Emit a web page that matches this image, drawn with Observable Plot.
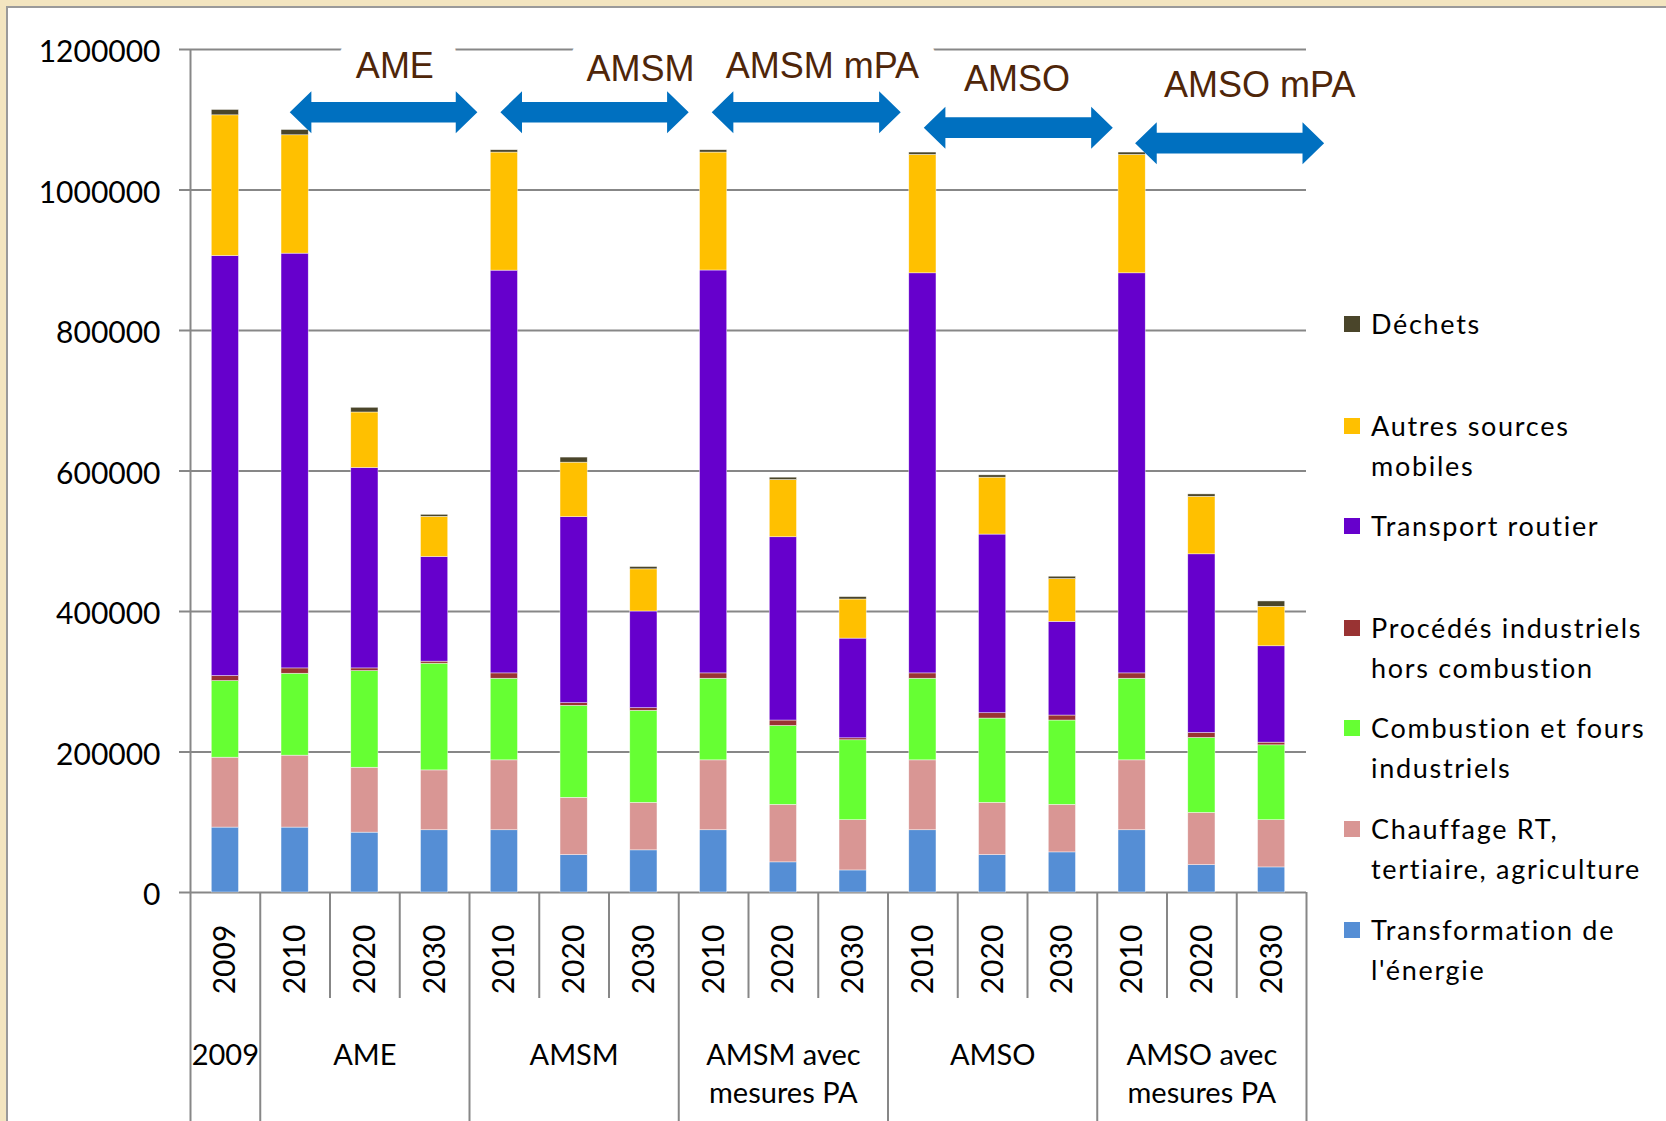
<!DOCTYPE html>
<html>
<head>
<meta charset="utf-8">
<script src="https://cdn.jsdelivr.net/npm/d3@7"></script>
<script src="https://cdn.jsdelivr.net/npm/@observablehq/plot@0.6"></script>
<style>
  html, body { margin: 0; padding: 0; width: 1666px; height: 1121px; overflow: hidden; background: #F3E5C0; }
  #panel { position: absolute; left: 6px; top: 6px; width: 1720px; height: 1200px; background: #fff;
           border-left: 2px solid #9a9a9a; border-top: 2px solid #9a9a9a; }
  #chart { position: absolute; left: 0; top: 0; }
  #legend { position: absolute; left: 0; top: 0; font-family: Lato, "Liberation Sans", sans-serif; font-size: 27px; letter-spacing: 1.7px; color: #000; }
  .lg-sw { position: absolute; width: 16px; height: 16px; }
  .lg-tx { position: absolute; line-height: 40px; white-space: nowrap; }
</style>
</head>
<body>
<div id="panel"></div>
<div id="chart"></div>
<div id="legend"></div>
<script>
// ---------- DATA ----------
const scenarios = ["2009", "AME", "AMSM", "AMSM avec\nmesures PA", "AMSO", "AMSO avec\nmesures PA"];
const arrowLabels = ["AME", "AMSM", "AMSM mPA", "AMSO", "AMSO mPA"];
const barYears = ["2009", "2010", "2020", "2030", "2010", "2020", "2030", "2010", "2020", "2030",
                  "2010", "2020", "2030", "2010", "2020", "2030"];
const barScenario = [0, 1, 1, 1, 2, 2, 2, 3, 3, 3, 4, 4, 4, 5, 5, 5];

const seriesNames = [
  "Transformation de l'énergie",
  "Chauffage RT, tertiaire, agriculture",
  "Combustion et fours industriels",
  "Procédés industriels hors combustion",
  "Transport routier",
  "Autres sources mobiles",
  "Déchets"
];
const legendLabels = [
  "Transformation de\nl'énergie",
  "Chauffage RT,\ntertiaire, agriculture",
  "Combustion et fours\nindustriels",
  "Procédés industriels\nhors combustion",
  "Transport routier",
  "Autres sources\nmobiles",
  "Déchets"
];
const seriesColors = ["#558ED5", "#D99694", "#66FF33", "#993333", "#6600CC", "#FFC000", "#4A452A"];

const transformation = [92400, 92400, 85200, 88600, 88600, 53300, 60000, 88600, 42900, 31400, 88600, 53300, 57100, 88600, 39000, 35700];
const chauffage      = [99500, 102400, 92400, 85200, 99500, 81500, 67600, 99500, 81900, 71500, 99500, 74300, 67700, 99500, 74300, 67200];
const combustion     = [109100, 116600, 137600, 151900, 116200, 130900, 131000, 116200, 112300, 113800, 116200, 120000, 120000, 116200, 106700, 106600];
const procedes       = [7100, 7600, 3800, 2900, 7600, 3800, 3800, 7600, 7700, 2800, 7600, 7600, 7100, 7600, 7100, 3800];
const transport      = [597900, 590400, 285300, 149000, 573300, 264800, 137600, 573500, 260900, 141900, 569500, 254300, 133400, 569500, 254300, 137200];
const autresMobiles  = [200300, 168500, 79000, 57200, 168100, 77600, 60000, 167900, 81500, 55700, 168600, 81000, 60900, 168600, 81900, 56200];
const dechets        = [7600, 7500, 6700, 2800, 3300, 7200, 3300, 3300, 3300, 3400, 3300, 3300, 3300, 3300, 3400, 7600];

const yTicks = [0, 200000, 400000, 600000, 800000, 1000000, 1200000];

// annotation arrows (x in bar-slot units, y in data units)
const arrowStart  = [1.43, 4.45, 7.48, 10.52, 13.55];
const arrowEnd    = [4.12, 7.15, 10.19, 13.23, 16.26];
const arrowLevel  = [1110000, 1110000, 1110000, 1088000, 1066000];
const labelX      = [2.93, 6.45, 9.06, 11.85, 15.33];
const labelLevel  = [1176000, 1171000, 1176000, 1157000, 1149000];

// ---------- BUILD ----------
const seriesValues = [transformation, chauffage, combustion, procedes, transport, autresMobiles, dechets];
const segments = [];
for (let i = 0; i < barYears.length; i++) {
  let acc = 0;
  seriesValues.forEach((vals, s) => {
    segments.push({i, series: seriesNames[s], y1: acc, y2: acc + vals[i]});
    acc += vals[i];
  });
}
const bars = barYears.map((year, i) => ({i, year}));
const groups = scenarios.map((name, g) => {
  const idx = barScenario.map((s, i) => s === g ? i : -1).filter(i => i >= 0);
  return {name, start: idx[0], end: idx[idx.length - 1] + 1};
});
const groupBounds = [...new Set(groups.flatMap(g => [g.start, g.end]))];
const innerBounds = d3.range(1, barYears.length).filter(b => !groupBounds.includes(b));

const headLen = 0.31, shaftHalf = 14700, headHalf = 29900;
const arrowPts = [];
arrowStart.forEach((x0, k) => {
  const x1 = arrowEnd[k], c = arrowLevel[k];
  [[x0, c, c], [x0 + headLen, c - headHalf, c + headHalf], [x0 + headLen, c - shaftHalf, c + shaftHalf],
   [x1 - headLen, c - shaftHalf, c + shaftHalf], [x1 - headLen, c - headHalf, c + headHalf], [x1, c, c]]
    .forEach(([x, lo, hi]) => arrowPts.push({k, x, lo, hi}));
});
const labels = arrowLabels.map((t, k) => ({t, k, x: labelX[k], y: labelLevel[k]}));

const halfBar = 0.195;
const gridColor = "#878787";
const plotH = 892 - 49;
const labelFont = {fontSize: 36, fontFamily: "'Liberation Sans', Arial, sans-serif", fill: "#4F2609", stroke: "white", strokeLinejoin: "round"};

const chart = Plot.plot({
  width: 1666,
  height: 1121,
  marginLeft: 190,
  marginRight: 360,
  marginTop: 49,
  marginBottom: 229,
  style: {background: "transparent", overflow: "visible"},
  x: {domain: [0, barYears.length], axis: null},
  y: {domain: [0, 1200000], axis: null},
  color: {domain: seriesNames, range: seriesColors},
  marks: [
    Plot.ruleY(yTicks, {y: d => d, stroke: gridColor, strokeWidth: 2, insetLeft: -11}),
    Plot.text(yTicks, {y: d => d, text: d => String(d), frameAnchor: "left", textAnchor: "end", dx: -30, dy: 3,
      fontSize: 30, fontFamily: "Lato, 'Liberation Sans', sans-serif", fill: "#000"}),
    Plot.ruleX([0], {stroke: gridColor, strokeWidth: 2, insetBottom: -240}),
    Plot.ruleX(groupBounds.filter(b => b > 0), {x: d => d, stroke: gridColor, strokeWidth: 2, insetTop: plotH, insetBottom: -240}),
    Plot.ruleX(innerBounds, {x: d => d, stroke: gridColor, strokeWidth: 2, insetTop: plotH, insetBottom: -106}),
    Plot.rect(segments, {x1: d => d.i + 0.5 - halfBar, x2: d => d.i + 0.5 + halfBar, y1: "y1", y2: "y2",
      fill: "series", stroke: "white", strokeWidth: 0.6, strokeOpacity: 0.7}),
    Plot.text(bars, {x: d => d.i + 0.5, text: "year", frameAnchor: "bottom", dx: 10, dy: 67, rotate: -90,
      fontSize: 30, fontFamily: "Lato, 'Liberation Sans', sans-serif", letterSpacing: "1px", fill: "#000"}),
    Plot.text(groups, {x: d => (d.start + d.end) / 2, text: "name", frameAnchor: "bottom", lineAnchor: "top", dy: 145,
      lineHeight: 1.33, fontSize: 29, fontFamily: "Lato, 'Liberation Sans', sans-serif", letterSpacing: "0.5px", fill: "#000"}),
    Plot.text(labels.filter(d => d.k < 3), {x: "x", y: "y", text: "t", ...labelFont, strokeWidth: 48}),
    Plot.text(labels.filter(d => d.k >= 3), {x: "x", y: "y", text: "t", ...labelFont, strokeWidth: 8}),
    Plot.area(arrowPts, {x1: "x", y1: "lo", y2: "hi", z: "k", fill: "#0070C0", curve: "linear"})
  ]
});
document.getElementById("chart").appendChild(chart);

// ---------- LEGEND (HTML) ----------
const legend = document.getElementById("legend");
const rowCenters = [930, 829, 728, 628, 526, 426, 324];
legendLabels.forEach((lab, s) => {
  const c = rowCenters[s];
  const sw = document.createElement("div");
  sw.className = "lg-sw";
  sw.style.left = "1344px";
  sw.style.top = (c - 8) + "px";
  sw.style.background = seriesColors[s];
  legend.appendChild(sw);
  const tx = document.createElement("div");
  tx.className = "lg-tx";
  tx.style.left = "1371px";
  tx.style.top = (c - 20) + "px";
  tx.innerHTML = lab.split("\n").join("<br>");
  legend.appendChild(tx);
});
</script>
</body>
</html>
